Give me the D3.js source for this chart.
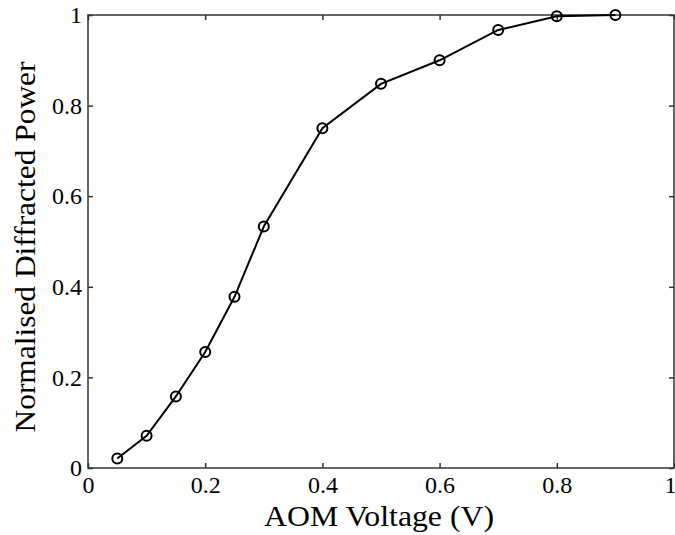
<!DOCTYPE html>
<html><head><meta charset="utf-8">
<script src="https://cdn.jsdelivr.net/npm/d3@7"></script>
<style>body{margin:0;background:#fff}svg{display:block}</style>
</head><body>
<svg id="c" width="675" height="535"></svg>
<script>
const voltage = [0.05, 0.1, 0.15, 0.2, 0.25, 0.3, 0.4, 0.5, 0.6, 0.7, 0.8, 0.9];
const power = [0.021, 0.071, 0.158, 0.256, 0.378, 0.533, 0.75, 0.848, 0.90, 0.967, 0.997, 1.0];
const xTicks = [0, 0.2, 0.4, 0.6, 0.8, 1];
const yTicks = [0, 0.2, 0.4, 0.6, 0.8, 1];
const xTitle = "AOM Voltage (V)";
const yTitle = "Normalised Diffracted Power";

const svg = d3.select("#c");
const L = 88, R = 674, T = 15, B = 468;
const x = d3.scaleLinear().domain([0, 1]).range([L, R]);
const y = d3.scaleLinear().domain([0, 1]).range([B, T]);
const font = "'Liberation Serif', 'Times New Roman', serif";
const axisCol = "#333";

// box
svg.append("rect").attr("x", L).attr("y", T).attr("width", R - L).attr("height", B - T)
  .attr("fill", "none").attr("stroke", axisCol).attr("stroke-width", 1.5);

const tl = 5;
const fmt = d => d === 0 ? "0" : d === 1 ? "1" : String(d);
// bottom axis
const gx = svg.append("g").attr("transform", `translate(0,${B})`)
  .call(d3.axisBottom(x).tickValues(xTicks).tickFormat(fmt).tickSizeInner(-tl).tickSizeOuter(0).tickPadding(8));
gx.select(".domain").remove();
gx.selectAll(".tick text").filter(d => d === 1).attr("dx", -4);
// top ticks
const gxt = svg.append("g").attr("transform", `translate(0,${T})`)
  .call(d3.axisTop(x).tickValues(xTicks).tickFormat("").tickSizeInner(-tl).tickSizeOuter(0));
gxt.select(".domain").remove();
// left axis
const gy = svg.append("g").attr("transform", `translate(${L},0)`)
  .call(d3.axisLeft(y).tickValues(yTicks).tickFormat(fmt).tickSizeInner(-tl).tickSizeOuter(0).tickPadding(6));
gy.select(".domain").remove();
// right ticks
const gyr = svg.append("g").attr("transform", `translate(${R},0)`)
  .call(d3.axisRight(y).tickValues(yTicks).tickFormat("").tickSizeInner(-tl).tickSizeOuter(0));
gyr.select(".domain").remove();

svg.selectAll(".tick line").attr("stroke", axisCol).attr("stroke-width", 1.5);
svg.selectAll(".tick text").attr("font-family", font).attr("font-size", 24).attr("fill", "#000");

// titles
svg.append("text").attr("x", 379).attr("y", 526).attr("text-anchor", "middle")
  .attr("font-family", font).attr("font-size", 29).attr("fill", "#000")
  .attr("textLength", 230).attr("lengthAdjust", "spacingAndGlyphs").text(xTitle);
svg.append("text").attr("transform", "translate(35,247) rotate(-90)").attr("text-anchor", "middle")
  .attr("font-family", font).attr("font-size", 30).attr("fill", "#000")
  .attr("textLength", 371).attr("lengthAdjust", "spacingAndGlyphs").text(yTitle);

// line
const data = voltage.map((v, i) => [v, power[i]]);
svg.append("path").datum(data)
  .attr("d", d3.line().x(d => x(d[0])).y(d => y(d[1])))
  .attr("fill", "none").attr("stroke", "#000").attr("stroke-width", 2);
svg.selectAll("circle.m").data(data).enter().append("circle").attr("class", "m")
  .attr("cx", d => x(d[0])).attr("cy", d => y(d[1])).attr("r", 5)
  .attr("fill", "none").attr("stroke", "#000").attr("stroke-width", 2);
</script>
</body></html>
